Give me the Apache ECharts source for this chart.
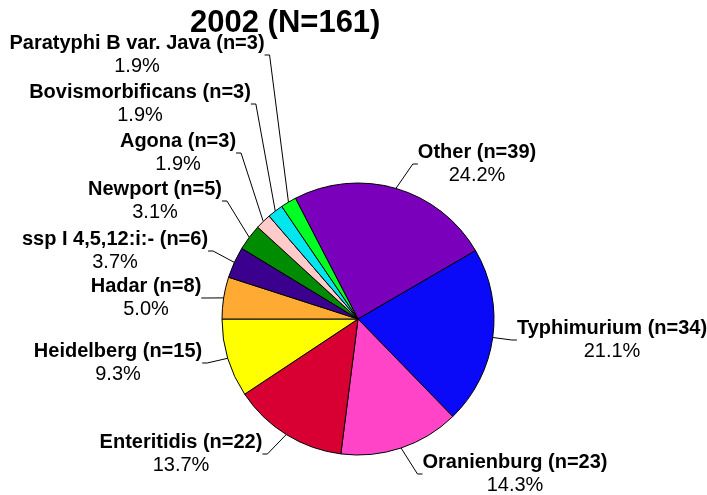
<!DOCTYPE html>
<html>
<head>
<meta charset="utf-8">
<title>2002 (N=161)</title>
<script src="https://cdn.jsdelivr.net/npm/echarts@6/dist/echarts.min.js"></script>
<style>
  html, body { margin: 0; padding: 0; background: #fff; }
  #chart { width: 707px; height: 495px; }
</style>
</head>
<body>
<div id="chart"></div>
<script>
  // serotypes, clockwise from the top
  const serotypes = ['Other', 'Typhimurium', 'Oranienburg', 'Enteritidis', 'Heidelberg', 'Hadar',
    'ssp I 4,5,12:i:-', 'Newport', 'Agona', 'Bovismorbificans', 'Paratyphi B var. Java']
  const counts = [39, 34, 23, 22, 15, 8, 6, 5, 3, 3, 3]
  const year = '2002'

  const sliceColors = ['#7B00BC', '#0A0AF8', '#FF44C8', '#D80032', '#FFFF00', '#FFAA33',
    '#3C008E', '#008C00', '#FFCACA', '#00E6EE', '#00FF22']
  // label block centres (px)
  const labelAt = [[477, 164], [612, 340], [515, 474], [181, 454], [118, 363], [146, 298],
    [115, 251], [155, 201], [178, 153], [140, 104], [137, 55]]

  const total = counts.reduce((a, b) => a + b, 0)
  const font = '"Liberation Sans", Arial, Helvetica, sans-serif'

  let chart = echarts.init(document.getElementById('chart'))
  let option = {
    animation: false,
    backgroundColor: '#fff',
    title: {
      text: year + ' (N=' + total + ')',
      left: 190,
      top: 5,
      padding: 0,
      textStyle: {
        fontFamily: font,
        fontSize: 31,
        fontWeight: 'bold',
        color: '#000',
        lineHeight: 36
      }
    },
    series: [
      {
        type: 'pie',
        center: [358, 319],
        radius: 136,
        startAngle: 117.4,
        clockwise: true,
        avoidLabelOverlap: false,
        emphasis: { disabled: true },
        itemStyle: {
          borderColor: '#000',
          borderWidth: 1
        },
        label: {
          show: true,
          position: 'outside',
          padding: [0, 7],
          fontFamily: font,
          formatter: function (p) {
            let pct = (p.value / total * 100).toFixed(1)
            return '{b|' + p.name + ' (n=' + p.value + ')}\n{p|' + pct + '%}'
          },
          rich: {
            b: { fontFamily: font, fontSize: 20, fontWeight: 'bold', color: '#000', lineHeight: 23 },
            p: { fontFamily: font, fontSize: 20, color: '#000', lineHeight: 23 }
          }
        },
        labelLine: {
          show: true,
          length: 10,
          length2: 5,
          smooth: false,
          lineStyle: { color: '#000', width: 1 }
        },
        labelLayout: function (params) {
          let pos = labelAt[params.dataIndex]
          return {
            x: pos[0],
            y: pos[1],
            align: 'center',
            verticalAlign: 'middle'
          }
        },
        data: serotypes.map((name, i) => ({
          name: name,
          value: counts[i],
          itemStyle: { color: sliceColors[i] }
        }))
      }
    ]
  }
  chart.setOption(option)
</script>
</body>
</html>
